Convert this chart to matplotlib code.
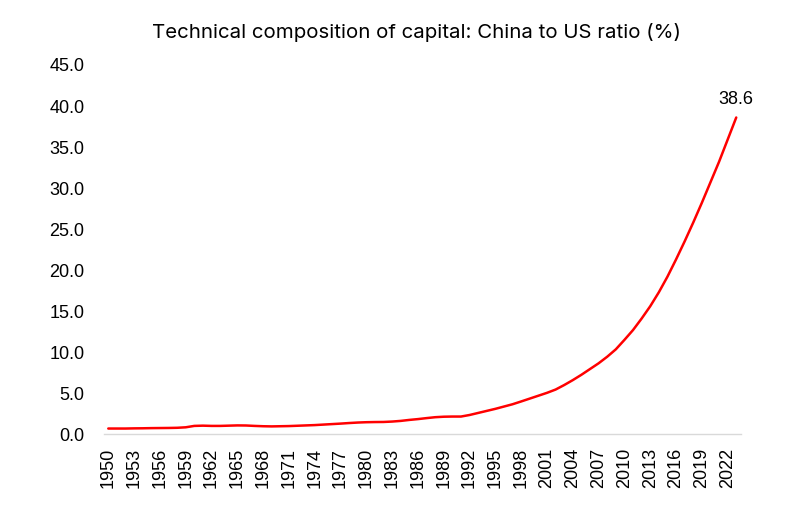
import matplotlib
matplotlib.use("Agg")
import matplotlib.pyplot as plt

years = list(range(1950, 2024))
ratio = [
    0.70, 0.70, 0.70, 0.72, 0.73, 0.75, 0.76, 0.77, 0.79, 0.85,   # 1950s
    1.02, 1.05, 1.02, 1.02, 1.05, 1.08, 1.07, 1.02, 0.98, 0.96,   # 1960s
    0.98, 1.00, 1.04, 1.08, 1.12, 1.18, 1.24, 1.30, 1.37, 1.43,   # 1970s
    1.47, 1.49, 1.50, 1.55, 1.63, 1.75, 1.85, 1.97, 2.08, 2.14,   # 1980s
    2.16, 2.16, 2.35, 2.60, 2.85, 3.10, 3.38, 3.66, 4.00, 4.35,   # 1990s
    4.70, 5.05, 5.45, 6.00, 6.60, 7.25, 7.95, 8.65, 9.45, 10.35,  # 2000s
    11.5, 12.7, 14.1, 15.6, 17.3, 19.2, 21.3, 23.5, 25.8, 28.2,   # 2010s
    30.7, 33.2, 35.9, 38.6,                                       # 2020s
]
y_ticks = [0, 5, 10, 15, 20, 25, 30, 35, 40, 45]
title = "Technical composition of capital: China to US ratio (%)"

LABEL_FONT = ["Liberation Sans", "DejaVu Sans"]
TITLE_FONT = ["Inter", "DejaVu Sans"]

fig = plt.figure(figsize=(7.98, 5.12), dpi=100)
ax = fig.add_axes([0.1303, 0.1518, 0.7977, 0.7213])

idx = list(range(len(years)))
ax.plot(idx, ratio, color="#FF0000", lw=1.8, solid_capstyle="round")
ax.set_xlim(-0.5, len(years) - 0.5)
ax.set_ylim(0, 45)

tick_idx = idx[::3]
ax.set_xticks(tick_idx)
ax.set_xticklabels([str(years[i]) for i in tick_idx], rotation=90,
                   fontfamily=LABEL_FONT, fontsize=13)
ax.set_yticks(y_ticks)
ax.set_yticklabels([f"{v:.1f}" for v in y_ticks], fontfamily=LABEL_FONT, fontsize=13)
ax.tick_params(axis="both", length=0, colors="#000000")
ax.tick_params(axis="x", pad=10)
ax.tick_params(axis="y", pad=14)

for side in ("top", "right", "left"):
    ax.spines[side].set_visible(False)
ax.spines["bottom"].set_color("#D9D9D9")
ax.spines["bottom"].set_linewidth(1.0)

ax.annotate(f"{ratio[-1]:.1f}", xy=(idx[-1], ratio[-1]), xytext=(0, 13),
            textcoords="offset points", ha="center", va="center",
            fontfamily=LABEL_FONT, fontsize=13)

fig.text(0.522, 0.937, title, ha="center", va="center",
         fontfamily=TITLE_FONT, fontsize=14.7)

fig.savefig("out.png", dpi=100)
